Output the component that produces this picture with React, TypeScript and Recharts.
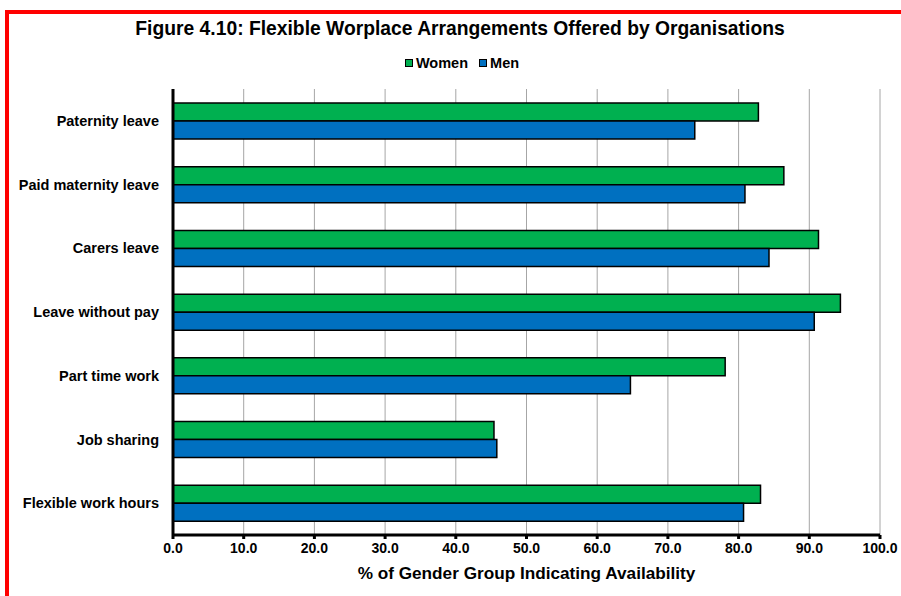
import React from 'react';
import { BarChart, Bar, XAxis, YAxis, CartesianGrid } from 'recharts';

const categories = [
  'Paternity leave',
  'Paid maternity leave',
  'Carers leave',
  'Leave without pay',
  'Part time work',
  'Job sharing',
  'Flexible work hours',
];
const women = [82.8, 86.4, 91.3, 94.4, 78.1, 45.4, 83.1];
const men = [73.8, 80.9, 84.3, 90.7, 64.7, 45.8, 80.7];
const xTicks = [0, 10, 20, 30, 40, 50, 60, 70, 80, 90, 100];
const boundaryTicks = [0, 1, 2, 3, 4, 5, 6, 7];

const data = categories.map((name, i) => ({ name, women: women[i], men: men[i] }));

const FONT = 'Arial, "Liberation Sans", sans-serif';
const GREEN = '#00B050';
const BLUE = '#0070C0';

function LegendBox() {
  const item = (color: string, label: string, gap: number) => (
    <span style={{ display: 'inline-flex', alignItems: 'center', marginRight: gap }}>
      <span style={{ width: 6, height: 6, background: color, border: '1px solid #000', marginRight: 3 }} />
      <span>{label}</span>
    </span>
  );
  return (
    <div style={{ position: 'absolute', left: 0, top: 54, width: 924, lineHeight: '17px', textAlign: 'center', fontFamily: FONT, fontWeight: 'bold', fontSize: 14.5, color: '#000' }}>
      {item(GREEN, 'Women', 11)}
      {item(BLUE, 'Men', 0)}
    </div>
  );
}

export default function App() {
  return (
    <div style={{ position: 'absolute', left: 0, top: 0, width: 901, height: 596, background: '#fff', overflow: 'hidden' }}>
      <div style={{ position: 'absolute', left: 5, top: 10, width: 900, height: 600, border: '4px solid #ff0000', boxSizing: 'border-box' }} />
      <div style={{ position: 'absolute', left: 0, top: 18, width: 920, lineHeight: '22px', textAlign: 'center', fontFamily: FONT, fontWeight: 'bold', fontSize: 19.3, color: '#000' }}>
        Figure 4.10: Flexible Worplace Arrangements Offered by Organisations
      </div>
      <LegendBox />
      <div style={{ position: 'absolute', left: 0, top: 0 }}>
        <BarChart
          width={901}
          height={596}
          data={data}
          layout="vertical"
          margin={{ top: 89, right: 21, bottom: 0, left: 0 }}
          barSize={18}
          barGap={0}
        >
          <CartesianGrid yAxisId="cat" horizontal={false} vertical stroke="#a6a6a6" strokeWidth={1} />
          <XAxis
            type="number"
            domain={[0, 100]}
            ticks={xTicks}
            interval={0}
            tickFormatter={(v: number) => v.toFixed(1)}
            axisLine={{ stroke: '#000', strokeWidth: 3 }}
            tickLine={{ stroke: '#000', strokeWidth: 3 }}
            tickSize={4}
            tickMargin={4}
            tick={{ fontFamily: FONT, fontSize: 14, fontWeight: 'bold', fill: '#000' }}
            height={61}
            label={{ value: '% of Gender Group Indicating Availability', position: 'insideTop', offset: 32, style: { fontFamily: FONT, fontSize: 17.2, fontWeight: 'bold', fill: '#000' } }}
          />
          <YAxis
            yAxisId={0}
            type="number"
            domain={[0, 7]}
            allowDataOverflow
            ticks={boundaryTicks}
            interval={0}
            width={1}
            tick={false}
            tickSize={4}
            tickLine={{ stroke: '#000', strokeWidth: 3 }}
            axisLine={{ stroke: '#000', strokeWidth: 3 }}
          />
          <YAxis
            yAxisId="cat"
            type="category"
            dataKey="name"
            width={172}
            axisLine={false}
            tickLine={false}
            tickMargin={7}
            interval={0}
            tick={{ fontFamily: FONT, fontSize: 14.5, fontWeight: 'bold', fill: '#000' }}
          />
          <Bar yAxisId="cat" dataKey="women" name="Women" fill={GREEN} stroke="#000" strokeWidth={1.5} isAnimationActive={false} />
          <Bar yAxisId="cat" dataKey="men" name="Men" fill={BLUE} stroke="#000" strokeWidth={1.5} isAnimationActive={false} />
        </BarChart>
      </div>
    </div>
  );
}
